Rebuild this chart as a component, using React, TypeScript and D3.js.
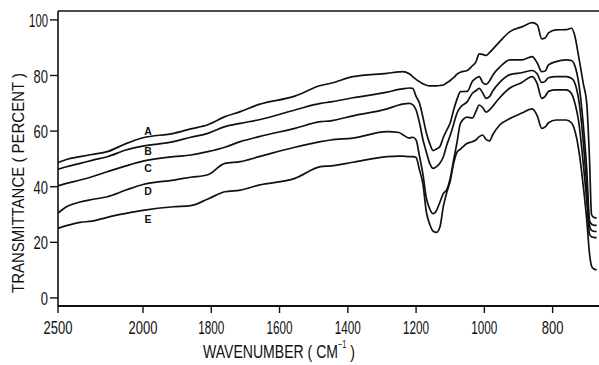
import React from 'react';
import * as d3 from 'd3';

// wavenumber grid (cm-1), shared by all five traces
const wavenumbers = [
  2500, 2450, 2370, 2300, 2210, 2100, 2000, 1910, 1860, 1810, 1760, 1715, 1660, 1555, 1480, 1450,
  1385, 1285, 1250, 1240, 1220, 1210, 1200, 1190, 1180, 1170, 1160, 1150, 1140, 1130, 1120, 1110,
  1100, 1090, 1080, 1070, 1050, 1035, 1025, 1015, 1005, 995, 985, 975, 955, 925, 890, 860,
  845, 832, 822, 812, 790, 760, 745, 737, 722, 710, 700, 692, 686, 680, 674, 671,
];

const seriesA = [
  48.7, 49.8, 50.8, 51.6, 52.6, 55.5, 57.6, 59.2, 60.8, 62.3, 65.2, 67, 69.6, 72.6, 76.4, 77.2,
  79.6, 80.8, 81.3, 81.4, 80.6, 79.6, 78.6, 77.8, 77, 76.5, 76.3, 76.3, 76.3, 76.4, 76.6, 77.4,
  78.2, 79.2, 80.5, 81.2, 81.8, 83.5, 84.8, 87.8, 87.6, 87.2, 88.2, 89.5, 92.2, 95.8, 97.5, 99,
  98.2, 93.2, 93.5, 95.3, 96.4, 96.5, 97, 95.2, 85.6, 77, 70, 50, 30, 29, 28.8, 28.8,
];

const seriesB = [
  46.3, 47.2, 48.4, 49.5, 50.8, 53.2, 54.6, 56.2, 57.8, 59.2, 61.6, 62.8, 64.1, 67.6, 70, 70.5,
  72, 74, 75, 75.2, 75.5, 75.4, 72.5, 70, 65, 59.4, 55.5, 53, 53.6, 54.5, 57.8, 60.4,
  63, 67.6, 71.5, 74.2, 74.3, 77.9, 79, 79.6, 77.5, 76.8, 78, 80.2, 83, 85.6, 85.6, 86.8,
  84.5, 81.4, 81.6, 83.8, 85, 85.6, 85.4, 84.2, 76, 62, 46, 28, 26.5, 26.2, 26.1, 26.1,
];

const seriesC = [
  40.3, 41.2, 42.4, 43.6, 45.4, 47.5, 49.2, 50.8, 51.4, 52.6, 54.2, 56.2, 58, 61, 63.4, 63.7,
  65.5, 68, 69.4, 69.7, 70, 69.5, 67.6, 63, 57, 52.5, 48.4, 46.6, 47.2, 48.5, 50.8, 55,
  58.5, 62.5, 66.5, 68.6, 70.6, 73.6, 74.5, 75.4, 73.8, 71.8, 72.4, 74.5, 77.5, 80.3, 81, 81.8,
  80.5, 77.5, 77.9, 79.2, 79.6, 79.6, 79, 77.9, 70, 56, 40, 26, 24.3, 24, 23.9, 23.9,
];

const seriesD = [
  30.5, 32.8, 34.5, 35.4, 36.4, 38.8, 40.8, 42.4, 43.4, 44.3, 48.4, 49, 50.8, 54.2, 56.2, 56.8,
  57.5, 59.8, 59.5, 58.8, 57.5, 57.8, 56.8, 51, 44.5, 36, 32, 30.3, 31.5, 34.5, 37.6, 39,
  43, 49.6, 56, 62.8, 65, 64.7, 67, 69.4, 68.5, 66.8, 67.6, 69, 72, 75.5, 77.5, 79.6,
  77, 71.8, 72.5, 74.3, 74.8, 74.8, 73.5, 71, 62, 48, 35, 23, 22, 21.8, 21.7, 21.7,
];

const seriesE = [
  25, 26, 27.2, 27.6, 29, 30.4, 31.5, 32.8, 33.2, 35.6, 38.2, 38.8, 40.6, 43, 47.2, 47.5,
  48.8, 50.8, 51, 51, 50.8, 50.8, 50.5, 46, 41, 31, 26.5, 24, 23.6, 25.6, 33, 38,
  42, 48.4, 52.5, 53.5, 55.6, 56.2, 56.8, 58, 58.6, 57, 56.5, 58.8, 62.2, 64.5, 66.5, 68,
  65.5, 61, 61.5, 63, 64, 64, 63, 61, 52, 40, 28, 16, 11.5, 10.5, 10.2, 10.2,
];

const seriesNames = ['A', 'B', 'C', 'D', 'E'];
const labelWavenumber = 1985;
const labelValues = [60.1, 52.9, 46.8, 38.5, 28.4];

const xTicks = [2500, 2000, 1800, 1600, 1400, 1200, 1000, 800];
const yTicks = [0, 20, 40, 60, 80, 100];

const font = "'Liberation Sans', Arial, sans-serif";

// narrow lettering of the original: '1' is just a stroke
const digitsWidth = (s: string) =>
  s.split('').reduce((w, ch) => w + (ch === '1' ? 4.5 : 7.2), 0);

export default function App() {
  const width = 599;
  const height = 365;
  const left = 58;
  const top = 11;
  const bottom = 306;

  // the chart paper changes scale at 2000 cm-1
  const x = d3.scaleLinear().domain([2500, 2000, 670]).range([left, 143, 597]);
  const y = d3.scaleLinear().domain([-2.9, 103.2]).range([bottom, top]);

  const allSeries = [seriesA, seriesB, seriesC, seriesD, seriesE];

  const line = d3
    .line<number>()
    .x((_, i) => x(wavenumbers[i]))
    .y((d) => y(d))
    .curve(d3.curveMonotoneX);

  return (
    <svg
      width={width}
      height={height}
      style={{ position: 'absolute', left: 0, top: 0, background: 'white' }}
    >
      {/* frame */}
      <line x1={left} x2={width} y1={top} y2={top} stroke="#111" strokeWidth={1.6} />
      <line x1={left} x2={left} y1={top} y2={bottom} stroke="#111" strokeWidth={1.6} />
      <line x1={left} x2={width} y1={bottom} y2={bottom} stroke="#111" strokeWidth={2} />

      {/* y axis */}
      {yTicks.map((t) => (
        <g key={t}>
          <line x1={left - 8} x2={left} y1={y(t)} y2={y(t)} stroke="#111" strokeWidth={1.4} />
          <text
            x={48}
            y={y(t) + 7}
            textAnchor="end"
            fontFamily={font}
            fontSize={19}
            textLength={digitsWidth(String(t))}
            lengthAdjust="spacingAndGlyphs"
            fill="#111"
          >
            {t}
          </text>
        </g>
      ))}

      {/* x axis */}
      {xTicks.map((t) => (
        <g key={t}>
          <line x1={x(t)} x2={x(t)} y1={bottom} y2={bottom + 7} stroke="#111" strokeWidth={1.4} />
          <text
            x={x(t)}
            y={334}
            textAnchor="middle"
            fontFamily={font}
            fontSize={19}
            textLength={digitsWidth(String(t))}
            lengthAdjust="spacingAndGlyphs"
            fill="#111"
          >
            {t}
          </text>
        </g>
      ))}

      {/* axis titles */}
      <text
        transform="translate(24,183) rotate(-90)"
        textAnchor="middle"
        fontFamily={font}
        fontSize={16}
        textLength={220}
        lengthAdjust="spacingAndGlyphs"
        fill="#111"
      >
        TRANSMITTANCE ( PERCENT )
      </text>
      <text transform="translate(203,358) scale(0.74,1)" fontFamily={font} fontSize={19} fill="#111">
        WAVENUMBER ( CM
        <tspan fontSize={10} dy={-10}>−1</tspan>
        <tspan dy={10}> )</tspan>
      </text>

      {/* traces */}
      {allSeries.map((s, i) => (
        <path
          key={seriesNames[i]}
          d={line(s) ?? ''}
          fill="none"
          stroke="#111"
          strokeWidth={1.7}
          strokeLinejoin="round"
        />
      ))}

      {/* trace labels */}
      {seriesNames.map((n, i) => (
        <text
          key={n}
          x={x(labelWavenumber)}
          y={y(labelValues[i])}
          dy="0.36em"
          textAnchor="middle"
          fontFamily={font}
          fontWeight="bold"
          fontSize={10.5}
          fill="#111"
        >
          {n}
        </text>
      ))}
    </svg>
  );
}
